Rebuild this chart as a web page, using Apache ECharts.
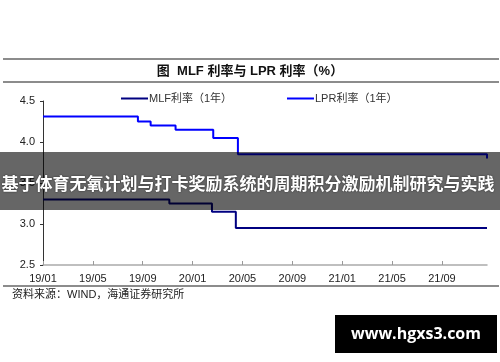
<!DOCTYPE html>
<html><head><meta charset="utf-8">
<script src="https://cdn.jsdelivr.net/npm/echarts@6/dist/echarts.min.js"></script>
<style>html,body{margin:0;padding:0;background:#fff}#c{width:500px;height:362px}</style>
</head><body><div id="c"></div>
<script>
// ---- data ----
const xTickLabels = ['19/01','19/05','19/09','20/01','20/05','20/09','21/01','21/05','21/09'];
const yTickValues = [2.5, 3.0, 3.5, 4.0, 4.5];
const seriesNames = ['MLF利率（1年）', 'LPR利率（1年）'];
const mlfDates  = ['2019-01-01','2019-11-05','2020-02-17','2020-04-15','2021-12-20'];
const mlfValues = [3.30, 3.25, 3.15, 2.95, 2.95];
const lprDates  = ['2019-01-01','2019-08-20','2019-09-20','2019-11-20','2020-02-20','2020-04-20','2021-12-20'];
const lprValues = [4.31, 4.25, 4.20, 4.15, 4.05, 3.85, 3.80];
const titleText = '图  MLF 利率与 LPR 利率（%）';
const sourceText = '资料来源：WIND，海通证券研究所';
const bannerText = '基于体育无氧计划与打卡奖励系统的周期积分激励机制研究与实践';
const watermarkText = 'www.hgxs3.com';

// months since 2019-01-01 (fractional)
function monthIndex(d){
  const p = d.split('-').map(Number);
  const dim = new Date(p[0], p[1], 0).getDate();
  return (p[0]-2019)*12 + (p[1]-1) + (p[2]-1)/dim;
}
function labelToIndex(l){ const p = l.split('/'); return monthIndex('20'+p[0]+'-'+p[1]+'-01'); }
const xTickValues = xTickLabels.map(labelToIndex);
const xMax = monthIndex(lprDates[lprDates.length-1]);

const FONT = '"Liberation Sans", Arial, "Noto Sans CJK SC", sans-serif';
const chart = echarts.init(document.getElementById('c'), null, {renderer:'canvas'});
chart.setOption({
  animation: false,
  backgroundColor: '#ffffff',
  grid: { left: 43, right: 13, top: 101, bottom: 97 },
  legend: [
    { data: [seriesNames[0]], left: 116, top: 88, icon: 'rect', itemWidth: 27, itemHeight: 2,
      textStyle: { fontSize: 11, color: '#333', fontFamily: FONT, padding: [0,0,0,-4] } },
    { data: [seriesNames[1]], left: 282, top: 88, icon: 'rect', itemWidth: 27, itemHeight: 2,
      textStyle: { fontSize: 11, color: '#333', fontFamily: FONT, padding: [0,0,0,-4] } }
  ],
  xAxis: {
    type: 'value', min: 0, max: xMax,
    splitLine: { show: false },
    axisLine: { show: true, lineStyle: { color: '#aaa', width: 1.5 } },
    axisTick: { show: true, inside: true, length: 4, customValues: xTickValues, lineStyle: { color: '#999' } },
    axisLabel: { customValues: xTickValues, margin: 8, fontSize: 11, color: '#222', fontFamily: FONT,
      formatter: v => { const i = xTickValues.findIndex(t => Math.abs(t - v) < 1e-6); return i >= 0 ? xTickLabels[i] : ''; } }
  },
  yAxis: {
    type: 'value', min: yTickValues[0], max: yTickValues[yTickValues.length-1], interval: 0.5,
    splitLine: { show: false },
    axisLine: { show: true, lineStyle: { color: '#333', width: 1 } },
    axisTick: { show: true, length: 3, lineStyle: { color: '#333' } },
    axisLabel: { margin: 8, fontSize: 11, color: '#222', fontFamily: FONT, formatter: v => v.toFixed(1) }
  },
  series: [
    { name: seriesNames[0], type: 'line', step: 'end', symbol: 'none', color: '#000080',
      lineStyle: { width: 2, color: '#000080' },
      data: mlfDates.map((d, i) => [monthIndex(d), mlfValues[i]]) },
    { name: seriesNames[1], type: 'line', step: 'end', symbol: 'none', color: '#0000ff',
      lineStyle: { width: 2, color: '#0000ff' },
      data: lprDates.map((d, i) => [monthIndex(d), lprValues[i]]) }
  ],
  graphic: [
    { type: 'line', shape: { x1: 3, y1: 59, x2: 499, y2: 59 }, style: { stroke: '#666', lineWidth: 1.5 }, z: 50 },
    { type: 'line', shape: { x1: 3, y1: 82, x2: 499, y2: 82 }, style: { stroke: '#666', lineWidth: 1.5 }, z: 50 },
    { type: 'line', shape: { x1: 3, y1: 286, x2: 499, y2: 286 }, style: { stroke: '#666', lineWidth: 1.5 }, z: 50 },
    { type: 'text', x: 250, y: 71, z: 50, style: { text: titleText, fill: '#111', font: 'bold 13px ' + FONT, textAlign: 'center', textVerticalAlign: 'middle' } },
    { type: 'text', x: 12, y: 295, z: 50, style: { text: sourceText, fill: '#222', font: '11px ' + FONT, textAlign: 'left', textVerticalAlign: 'middle' } },
    { type: 'rect', shape: { x: 0, y: 152, width: 500, height: 58 }, style: { fill: 'rgba(0,0,0,0.6)' }, z: 100 },
    { type: 'text', x: 248, y: 184, z: 101, style: { text: bannerText, fill: '#fff', font: 'bold 17px "Noto Sans CJK SC", sans-serif', textAlign: 'center', textVerticalAlign: 'middle', textShadowColor: 'rgba(0,0,0,0.6)', textShadowBlur: 2 } },
    { type: 'rect', shape: { x: 335, y: 315, width: 162, height: 38 }, style: { fill: '#000' }, z: 100 },
    { type: 'text', x: 416, y: 334, z: 101, style: { text: watermarkText, fill: '#fff', font: 'bold 16px "Open Sans", "Liberation Sans", sans-serif', textAlign: 'center', textVerticalAlign: 'middle' } }
  ]
});
</script></body></html>
